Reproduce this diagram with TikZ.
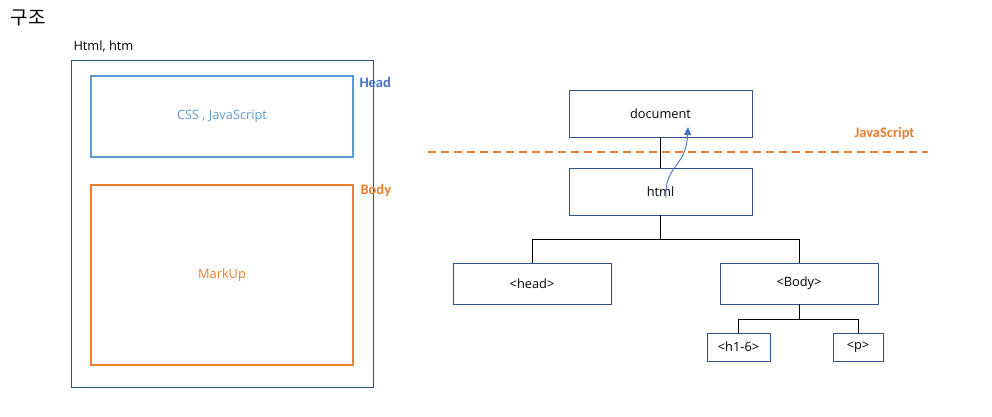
\documentclass[tikz,border=0pt]{standalone}
\usepackage{fontspec}
\setmainfont{Open Sans}
\newfontfamily\kofont{Noto Sans CJK KR}
\newfontfamily\calfont{Carlito}
\usetikzlibrary{arrows.meta}
\definecolor{dkblue}{HTML}{2F528F}
\definecolor{ltblue}{HTML}{5B9BD5}
\definecolor{mdblue}{HTML}{4472C4}
\definecolor{orng}{HTML}{ED7D31}
\begin{document}
\begin{tikzpicture}[x=1pt,y=-1pt,
  box/.style={draw=dkblue, line width=0.9pt, minimum width=#1, inner sep=0pt},
  txt/.style={font=\fontsize{12.8}{15}\selectfont, text=black},
  tag/.style={font=\calfont\bfseries\fontsize{14.5}{16}\selectfont, anchor=west},
  conn/.style={draw=black, line width=0.9pt}]
\useasboundingbox (0,0) rectangle (992,417);
% left structure
\node[font=\kofont\fontsize{19}{22}\selectfont, anchor=west] (title) at (7,18) {구조};
\node[txt, anchor=west] (htmlt) at (70,46) {Html, htm};
\draw[dkblue, line width=0.9pt] (71,60) rectangle (373,387);
\node[draw=ltblue, line width=1.6pt, minimum width=262pt, minimum height=81pt, inner sep=0pt,
  text=ltblue, font=\fontsize{12.8}{15}\selectfont] (headbox) at (222,116.5) {CSS , JavaScript};
\node[tag, text=mdblue] (headl) at (356,82) {Head};
\node[draw=orng, line width=1.6pt, minimum width=262pt, minimum height=180pt, inner sep=0pt,
  text=orng, font=\fontsize{12.8}{15}\selectfont] (bodybox) at (222,275) {MarkUp};
\node[tag, text=orng] (bodyl) at (357,191) {Body};
% right tree
\node[box=183pt, minimum height=47pt, txt] (doc) at (660.5,113.5) {document};
\node[box=183pt, minimum height=47pt, txt] (html) at (660.5,191.5) {html};
\node[box=158pt, minimum height=41pt, txt] (head) at (532,283.5) {<head>};
\node[box=158pt, minimum height=41pt, txt] (body) at (799,283.5) {<Body>};
\node[box=63pt, minimum height=28pt, txt] (h16) at (738.5,347) {<h1-6>};
\node[box=50pt, minimum height=28pt, txt] (p) at (858,347) {<p>};
\draw[conn] (doc.south) -- (html.north);
\draw[conn] (html.south) -- ++(0,24) coordinate (j1);
\draw[conn] (j1) -| (head.north);
\draw[conn] (j1) -| (body.north);
\draw[conn] (body.south) -- ++(0,15) coordinate (j2);
\draw[conn] (j2) -| (h16.north);
\draw[conn] (j2) -| (p.north);
% JavaScript line
\coordinate (dl) at (428,152);
\coordinate (dr) at (928,152);
\draw[orng, line width=1.6pt, dash pattern=on 8pt off 5pt] (dl) -- (dr);
\node[tag, text=orng] (jsl) at (851,134) {JavaScript};
\coordinate (a0) at (666,198);
\coordinate (a1) at (688,127);
\draw[mdblue, line width=0.9pt, -{Triangle[length=8pt,width=7pt]}] (a0) .. controls (664,165) and (686,168) .. (a1);
\end{tikzpicture}
\end{document}
